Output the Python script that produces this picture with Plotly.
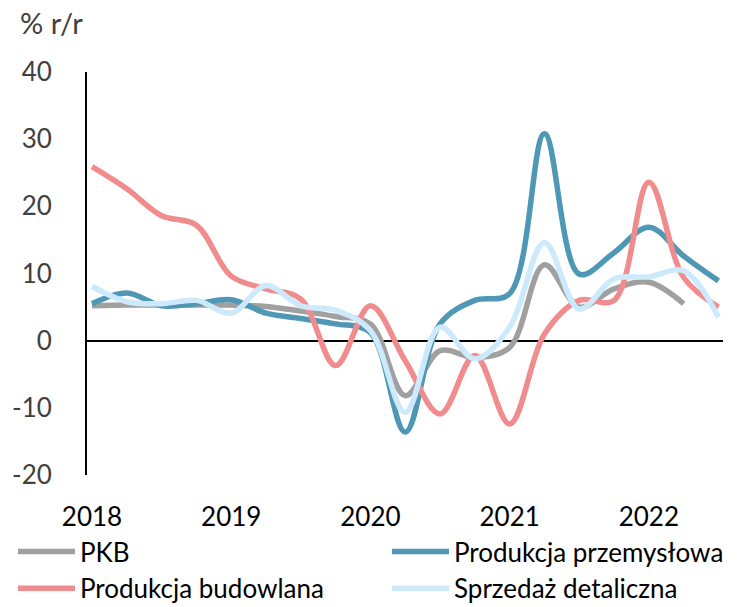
import plotly.graph_objects as go

quarters = list(range(19))
tick_pos = [0, 4, 8, 12, 16]
tick_labels = ["2018", "2019", "2020", "2021", "2022"]
y_tick_vals = [-20, -10, 0, 10, 20, 30, 40]
y_tick_labels = ["-20", "-10", "0", "10", "20", "30", "40"]

pkb = [5.2, 5.3, 5.3, 5.3, 5.3, 5.1, 4.4, 3.6, 2.5, -8.2, -1.5, -2.5, -1.0, 11.3, 5.0, 7.7, 8.7, 5.5]
przemyslowa = [5.5, 7.1, 5.2, 5.5, 6.1, 4.1, 3.3, 2.5, 1.2, -13.6, 2.5, 6.0, 7.0, 30.8, 9.9, 13.1, 16.9, 12.6, 8.9]
budowlana = [25.9, 22.6, 18.6, 17.2, 9.6, 7.7, 6.2, -3.7, 5.2, -3.0, -10.9, -2.2, -12.4, 1.0, 6.0, 6.0, 23.6, 9.4, 5.0]
detaliczna = [8.1, 5.8, 5.5, 6.0, 4.1, 8.2, 5.2, 4.5, 1.5, -10.7, 2.0, -2.7, 2.0, 14.6, 4.7, 9.2, 9.5, 10.4, 3.5]

series = [
    ("PKB", pkb, "#a0a0a0", "legend"),
    ("Produkcja przemysłowa", przemyslowa, "#4e97b5", "legend2"),
    ("Produkcja budowlana", budowlana, "#f08b8e", "legend"),
    ("Sprzedaż detaliczna", detaliczna, "#cdeafd", "legend2"),
]

FONT = "Lato"
fig = go.Figure()
for name, vals, color, lg in series:
    fig.add_trace(go.Scatter(
        x=quarters[:len(vals)], y=vals, name=name, mode="lines", legend=lg,
        line=dict(color=color, width=5.5, shape="spline", smoothing=1),
    ))

legend_common = dict(
    orientation="v", xref="container", yref="container",
    yanchor="top", xanchor="left", y=1 - 528 / 607,
    itemwidth=57, tracegroupgap=0,
    font=dict(family=FONT, size=26, color="#000000"),
    bgcolor="rgba(0,0,0,0)",
)

fig.update_layout(
    width=741, height=607,
    margin=dict(l=87, r=18, t=72, b=132, autoexpand=False),
    plot_bgcolor="white", paper_bgcolor="white",
    font=dict(family=FONT, size=26, color="#000000"),
    showlegend=True,
    legend=dict(legend_common, x=13 / 741),
    legend2=dict(legend_common, x=387 / 741),
    xaxis=dict(
        range=[-0.144, 18.13], showgrid=False, zeroline=False, showline=False,
        automargin=False,
        tickmode="array", tickvals=tick_pos, ticktext=tick_labels,
        ticks="outside", ticklen=19, tickcolor="rgba(0,0,0,0)",
        tickfont=dict(family=FONT, size=26, color="#000000"),
    ),
    yaxis=dict(
        range=[-20, 40], showgrid=False, automargin=False,
        tickmode="array", tickvals=y_tick_vals, ticktext=y_tick_labels,
        zeroline=True, zerolinecolor="#000000", zerolinewidth=2,
        showline=True, linecolor="#000000", linewidth=2,
        ticks="outside", ticklen=28, tickcolor="rgba(0,0,0,0)",
        tickfont=dict(family=FONT, size=26, color="#404040"),
    ),
    annotations=[dict(
        text="% r/r", xref="paper", yref="paper", x=-0.108, y=1.124,
        xanchor="left", yanchor="middle", showarrow=False,
        font=dict(family=FONT, size=29, color="#404040"),
    )],
)

fig.write_html("out.html", config={"displayModeBar": False},
               post_script="document.body.style.margin='0';")
